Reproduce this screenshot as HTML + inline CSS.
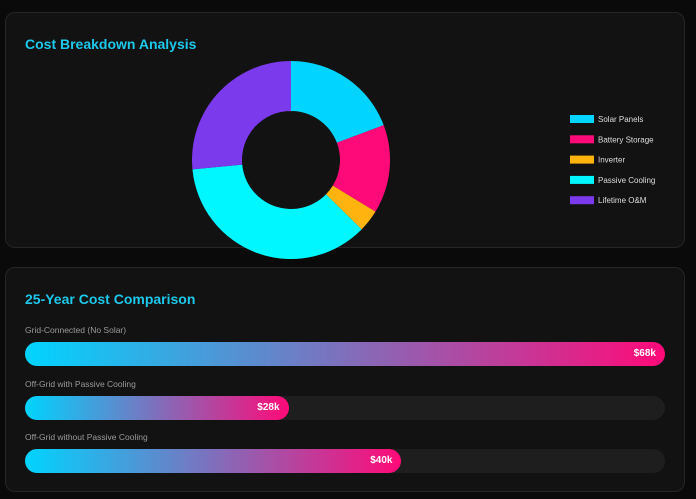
<!DOCTYPE html>
<html><head><meta charset="utf-8"><style>
body{margin:0;width:696px;height:499px;background:#0a0a0b;font-family:"Liberation Sans",sans-serif;overflow:hidden;position:relative}
.card{position:absolute;left:5px;width:678px;background:#121212;border:1px solid #262626;border-radius:10px}
.title{position:absolute;left:19px;font-size:14px;font-weight:bold;color:#1ec8ea}
.lbl{position:absolute;left:19px;font-size:8.5px;color:#9a9a9a}
.track{position:absolute;left:19px;width:640px;height:24px;border-radius:12px;background:#1e1e1e}
.bar{position:absolute;left:0;top:0;height:24px;border-radius:12px}
.val{position:absolute;right:9px;top:6px;font-size:10px;font-weight:bold;color:#fff}
</style></head><body>
<div class="card" style="top:12px;height:234px">
 <div class="title" style="top:23px">Cost Breakdown Analysis</div>
</div>
<svg id="donut" width="696" height="499" style="position:absolute;left:0;top:0"></svg>
<div class="card" style="top:267px;height:223px">
 <div class="title" style="top:23px">25-Year Cost Comparison</div>
 <div id="bars"></div>
</div>
<script>
const categories=["Solar Panels","Battery Storage","Inverter","Passive Cooling","Lifetime O&M"];
const costs=[8000,6000,1500,15000,11000];
const colors=["#00d4ff","#ff0a78","#ffb30f","#00f7ff","#7c3aed"];
const scenarios=["Grid-Connected (No Solar)","Off-Grid with Passive Cooling","Off-Grid without Passive Cooling"];
const totals=[68,28,40];
const valueLabels=["$68k","$28k","$40k"];
const maxTotal=68;
const NS="http://www.w3.org/2000/svg";
const svg=document.getElementById('donut');
const cx=291,cy=160,R=99,r=49;
const sum=costs.reduce((a,b)=>a+b,0);
let a0=0;
function pt(a,rad){return [cx+rad*Math.sin(a),cy-rad*Math.cos(a)];}
costs.forEach((v,i)=>{
 const a1=a0+v/sum*2*Math.PI;const lg=(a1-a0)>Math.PI?1:0;
 const [x0,y0]=pt(a0,R),[x1,y1]=pt(a1,R),[x2,y2]=pt(a1,r),[x3,y3]=pt(a0,r);
 const p=document.createElementNS(NS,'path');
 p.setAttribute('d',`M${x0},${y0}A${R},${R} 0 ${lg} 1 ${x1},${y1}L${x2},${y2}A${r},${r} 0 ${lg} 0 ${x3},${y3}Z`);
 p.setAttribute('fill',colors[i]);
 
 
 svg.appendChild(p);a0=a1;
 const sw=document.createElementNS(NS,'rect');
 sw.setAttribute('x',570);sw.setAttribute('y',115+i*20.3);sw.setAttribute('width',24);sw.setAttribute('height',8);sw.setAttribute('fill',colors[i]);
 
 
 svg.appendChild(sw);
 const t=document.createElementNS(NS,'text');
 t.setAttribute('x',598);t.setAttribute('y',122+i*20.3);t.setAttribute('font-size','8');t.setAttribute('fill','#ddd');
 t.textContent=categories[i];
 
 
 svg.appendChild(t);
});
const host=document.getElementById('bars');
scenarios.forEach((s,i)=>{
 const top=57+i*53.5;
 const l=document.createElement('div');l.className='lbl';l.style.top=top+'px';l.textContent=s;
 
 
 host.appendChild(l);
 const tr=document.createElement('div');tr.className='track';tr.style.top=(top+17)+'px';
 
 
 const b=document.createElement('div');b.className='bar';
 b.style.width=(totals[i]/maxTotal*640)+'px';
 b.style.background='linear-gradient(90deg,#00d4ff,#ff0a78)';
 
 
 const v=document.createElement('div');v.className='val';v.textContent=valueLabels[i];
 
 
 b.appendChild(v);tr.appendChild(b);host.appendChild(tr);
});
</script>
</body></html>
